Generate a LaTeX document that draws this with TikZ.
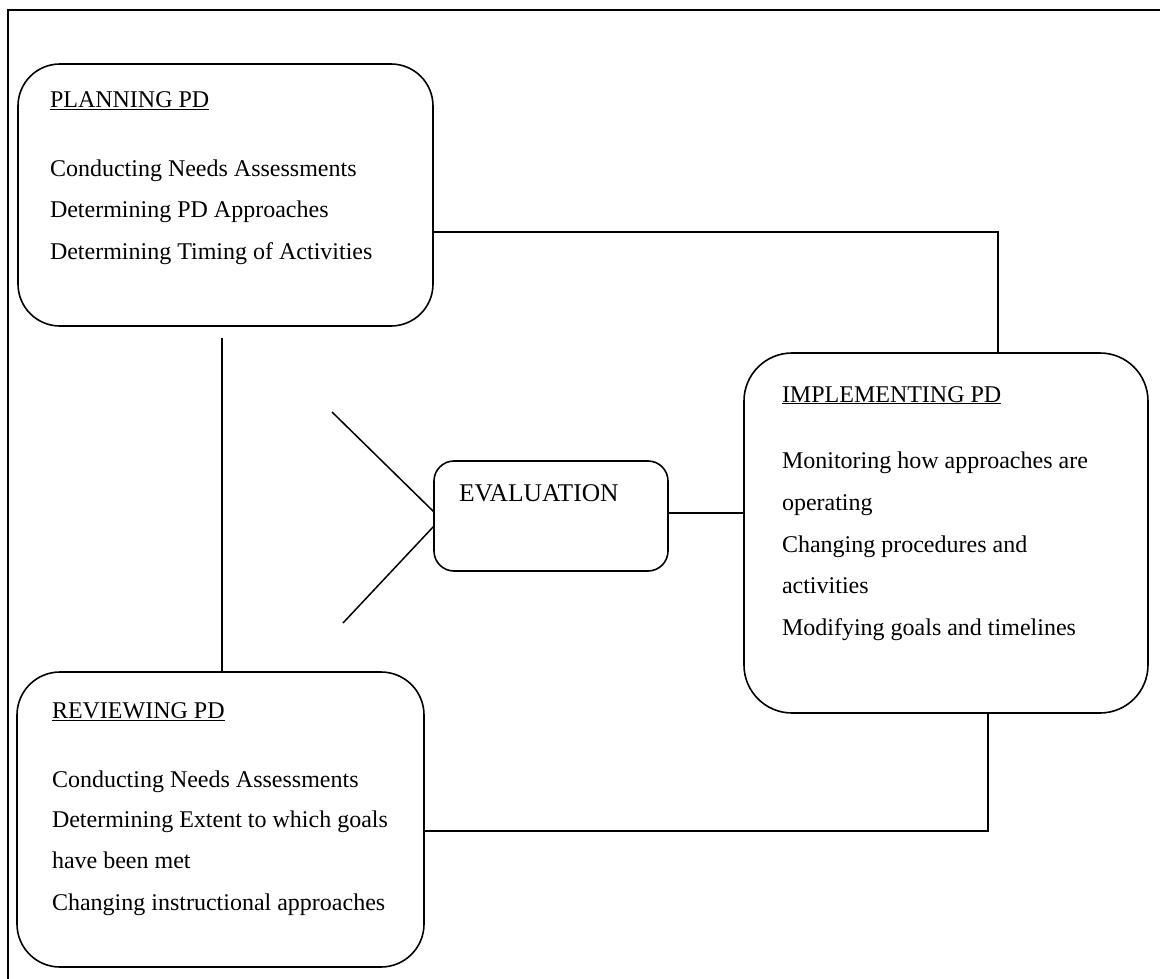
\documentclass[tikz,border=0pt]{standalone}
\usepackage{fontspec}
\setmainfont{Liberation Serif}
\usetikzlibrary{calc}
\begin{document}
\begin{tikzpicture}[x=1pt,y=-1pt, line width=1.6pt,
  box/.style={draw, rounded corners=#1, inner sep=0pt, outer sep=0pt},
  txt/.style={anchor=base west, inner sep=0pt, outer sep=0pt, font=\fontsize{24}{29}\selectfont},
  link/.style={draw, line width=1.5pt}]
\useasboundingbox (0,0) rectangle (1160,979);
% outer frame (left and top edges only)
\draw (8,985) -- (8,10) -- (1170,10);

% boxes
\node[box=42pt, minimum width=415pt, minimum height=262pt] (plan) at (225.5,195) {};
\node[box=48pt, minimum width=404pt, minimum height=360pt] (impl) at (946,533) {};
\node[box=43pt, minimum width=407pt, minimum height=295pt] (rev) at (220.5,819.5) {};
\node[box=20pt, minimum width=234pt, minimum height=110pt] (eval) at (551,516) {};

% texts: planning
\node[txt] (plant) at (50,108) {\underline{PLANNING PD}};
\node[txt] (plan1) at (50,177) {Conducting Needs Assessments};
\node[txt] (plan2) at (50,218) {Determining PD Approaches};
\node[txt] (plan3) at (50,259) {Determining Timing of Activities};

% texts: implementing
\node[txt] (implt) at (782,402) {\underline{IMPLEMENTING PD}};
\node[txt] (impl1) at (782,468) {Monitoring how approaches are};
\node[txt] (impl2) at (782,510) {operating};
\node[txt] (impl3) at (782,552) {Changing procedures and};
\node[txt] (impl4) at (782,593) {activities};
\node[txt] (impl5) at (782,635) {Modifying goals and timelines};

% texts: reviewing
\node[txt] (revt) at (52,718) {\underline{REVIEWING PD}};
\node[txt] (rev1) at (52,787) {Conducting Needs Assessments};
\node[txt] (rev2) at (52,827) {Determining Extent to which goals};
\node[txt] (rev3) at (52,868) {have been met};
\node[txt] (rev4) at (52,910) {Changing instructional approaches};

% evaluation text
\node[txt, font=\fontsize{25.5}{30}\selectfont] (evalt) at (459,501) {EVALUATION};

% bend points and free ends
\coordinate (c1) at (998,232);
\coordinate (c2) at (222,338);
\coordinate (c3) at (744,513);
\coordinate (c4) at (988,831);
\coordinate (d1) at (332,412);
\coordinate (d2) at (343,623);

% connectors
\draw[link] (plan.east |- c1) -- (c1) -- (impl.north -| c1);
\draw[link] (c2) -- (rev.north -| c2);
\draw[link] (eval.east |- c3) -- (impl.west |- c3);
\draw[link] (d1) -- ([yshift=4pt]eval.west);
\draw[link] ([yshift=-10pt]eval.west) -- (d2);
\draw[link] (rev.east |- c4) -- (c4) -- (impl.south -| c4);
\end{tikzpicture}
\end{document}
